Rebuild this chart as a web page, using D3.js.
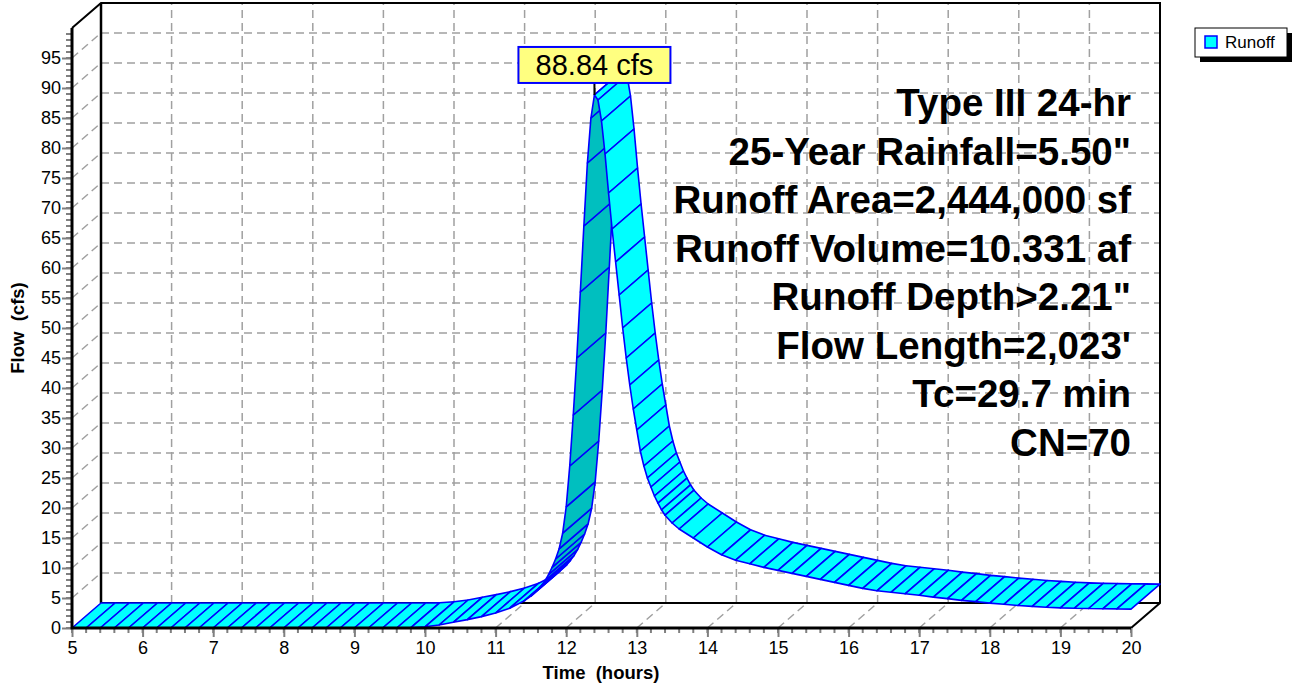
<!DOCTYPE html>
<html>
  <head>
    <style>
      body { margin: 0; background: #fff; }
      svg { display: block; font-family: "Liberation Sans", Arial, sans-serif; }
    </style>
  </head>
  <body>
    <script src="https://d3js.org/d3.v7.min.js"></script>
    <div id="chart"></div>
    <script>
      // Hydrograph samples: time (hours) and flow (cfs)
      var times = [
        5.0, 5.2, 5.4, 5.6, 5.8, 6.0, 6.2, 6.4, 6.6, 6.8,
        7.0, 7.2, 7.4, 7.6, 7.8, 8.0, 8.2, 8.4, 8.6, 8.8,
        9.0, 9.2, 9.4, 9.6, 9.8, 10.0, 10.2, 10.4, 10.6, 10.8,
        11.0, 11.2, 11.4, 11.5, 11.6, 11.65, 11.7, 11.75, 11.8, 11.85,
        11.9, 11.95, 12.0, 12.05, 12.1, 12.15, 12.2, 12.25, 12.3, 12.35,
        12.4, 12.45, 12.5, 12.55, 12.6, 12.65, 12.7, 12.75, 12.8, 12.85,
        12.9, 12.95, 13.0, 13.05, 13.1, 13.15, 13.2, 13.25, 13.3, 13.35,
        13.4, 13.5, 13.6, 13.8, 14.0, 14.2, 14.4, 14.6, 14.8, 15.0,
        15.2, 15.4, 15.6, 15.8, 16.0, 16.2, 16.4, 16.6, 16.8, 17.0,
        17.2, 17.4, 17.6, 17.8, 18.0, 18.2, 18.4, 18.6, 18.8, 19.0,
        19.2, 19.4, 19.6, 19.8, 20.0
      ];
      var flows = [
        0, 0, 0, 0, 0, 0, 0, 0, 0, 0,
        0, 0, 0, 0, 0, 0, 0, 0, 0, 0,
        0, 0, 0, 0, 0.05, 0.2, 0.5, 0.95, 1.4, 1.9,
        2.5, 3.3, 4.5, 5.3, 6.4, 7.1, 7.9, 8.9, 10.1, 11.5,
        13.2, 15.8, 20.2, 27.0, 35.5, 45.0, 56.0, 67.0, 77.5, 85.0,
        88.84, 88.0, 84.5, 79.0, 72.5, 66.5, 61.0, 55.5, 50.0, 45.0,
        40.5, 36.5, 33.0, 29.5, 27.0, 25.0, 23.5, 22.0, 20.8, 19.7,
        18.8, 17.5, 16.5, 15.0, 13.5, 12.2, 11.3, 10.7, 10.1, 9.6,
        9.1, 8.6, 8.1, 7.6, 7.1, 6.6, 6.2, 5.95, 5.7, 5.45,
        5.15, 4.9, 4.6, 4.4, 4.15, 3.95, 3.75, 3.6, 3.45, 3.35,
        3.3, 3.25, 3.2, 3.18, 3.15
      ];
      var xTicks = [5, 6, 7, 8, 9, 10, 11, 12, 13, 14, 15, 16, 17, 18, 19, 20];
      var yTicks = [0, 5, 10, 15, 20, 25, 30, 35, 40, 45, 50, 55, 60, 65, 70, 75, 80, 85, 90, 95];
      var peakText = "88.84 cfs";
      var seriesName = "Runoff";
      var notes = [
        "Type III 24-hr",
        "25-Year Rainfall=5.50\"",
        "Runoff Area=2,444,000 sf",
        "Runoff Volume=10.331 af",
        "Runoff Depth>2.21\"",
        "Flow Length=2,023'",
        "Tc=29.7 min",
        "CN=70"
      ];

      var width = 1294, height = 684;
      var dx = 29, dy = -25;   // depth offset of the back wall

      var x = d3.scaleLinear().domain([5, 20]).range([72, 1131]);
      var y = d3.scaleLinear().domain([0, 100]).range([628, 28]);

      var svg = d3.select("#chart").append("svg")
          .attr("width", width)
          .attr("height", height);

      var grid = svg.append("g")
          .attr("stroke", "#a0a0a0")
          .attr("stroke-width", 1.5)
          .attr("stroke-dasharray", "8,5")
          .attr("fill", "none");

      var innerY = yTicks.filter(function(d) { return d > 0; });
      var innerX = xTicks.filter(function(d) { return d > 5 && d < 20; });

      // back wall horizontal grid
      grid.selectAll(".hg").data(innerY).enter().append("line")
          .attr("x1", x(5) + dx).attr("x2", x(20) + dx)
          .attr("y1", function(d) { return y(d) + dy; })
          .attr("y2", function(d) { return y(d) + dy; });
      // back wall vertical grid
      grid.selectAll(".vg").data(innerX).enter().append("line")
          .attr("x1", function(d) { return x(d) + dx; })
          .attr("x2", function(d) { return x(d) + dx; })
          .attr("y1", y(0) + dy).attr("y2", y(100) + dy);
      // left wall diagonals
      grid.selectAll(".lg").data(innerY).enter().append("line")
          .attr("x1", x(5)).attr("x2", x(5) + dx)
          .attr("y1", function(d) { return y(d); })
          .attr("y2", function(d) { return y(d) + dy; });
      // floor diagonals
      grid.selectAll(".fg").data(innerX).enter().append("line")
          .attr("x1", function(d) { return x(d); })
          .attr("x2", function(d) { return x(d) + dx; })
          .attr("y1", y(0)).attr("y2", y(0) + dy);

      // frame of the box
      var frame = svg.append("g").attr("stroke", "#000").attr("fill", "none");
      frame.append("path")
          .attr("stroke-width", 2)
          .attr("d", "M" + x(5) + "," + y(100) +
                     "L" + (x(5) + dx) + "," + (y(100) + dy) +
                     "L" + (x(20) + dx) + "," + (y(100) + dy) +
                     "L" + (x(20) + dx) + "," + (y(0) + dy) +
                     "L" + x(20) + "," + y(0));
      frame.append("line")
          .attr("stroke-width", 2.5)
          .attr("x1", x(5) + dx).attr("x2", x(5) + dx)
          .attr("y1", y(100) + dy).attr("y2", y(0) + dy);
      frame.append("line")
          .attr("stroke-width", 2)
          .attr("x1", x(5) + dx).attr("x2", x(20) + dx)
          .attr("y1", y(0) + dy).attr("y2", y(0) + dy);

      // ribbon segments, drawn in time order
      var pts = times.map(function(t, i) { return [x(t), y(flows[i])]; });
      var segs = d3.range(pts.length - 1);
      svg.append("g").selectAll("path").data(segs).enter().append("path")
          .attr("d", function(i) {
            var a = pts[i], b = pts[i + 1];
            return "M" + a[0] + "," + a[1] +
                   "L" + b[0] + "," + b[1] +
                   "L" + (b[0] + dx) + "," + (b[1] + dy) +
                   "L" + (a[0] + dx) + "," + (a[1] + dy) + "Z";
          })
          .attr("fill", function(i) {
            var ex = pts[i + 1][0] - pts[i][0], ey = pts[i + 1][1] - pts[i][1];
            return (ex * dy - ey * dx) > 0 ? "#00bfbf" : "#00ffff";
          })
          .attr("stroke", "#0000ff")
          .attr("stroke-width", 1.6)
          .attr("stroke-linejoin", "round");

      // axes
      var xAxis = svg.append("g")
          .attr("transform", "translate(0," + y(0) + ")")
          .call(d3.axisBottom(x).tickValues(xTicks).tickSize(9).tickPadding(4).tickFormat(d3.format("d")));
      var yAxis = svg.append("g")
          .attr("transform", "translate(" + x(5) + ",0)")
          .call(d3.axisLeft(y).tickValues(yTicks).tickSize(10).tickPadding(1).tickFormat(d3.format("d")));
      [xAxis, yAxis].forEach(function(g) {
        g.select(".domain").remove();
        g.selectAll(".tick line").attr("stroke", "#808080").attr("stroke-width", 2);
        g.selectAll(".tick text").attr("fill", "#000")
            .style("font-size", "18px").style("font-family", "Liberation Sans, Arial, sans-serif");
      });

      // minor ticks
      svg.append("g").attr("stroke", "#808080").attr("stroke-width", 2)
        .selectAll("line").data(d3.range(5, 20.001, 0.2)).enter().append("line")
          .attr("x1", function(d) { return x(d); }).attr("x2", function(d) { return x(d); })
          .attr("y1", y(0)).attr("y2", y(0) + 5);
      svg.append("g").attr("stroke", "#808080").attr("stroke-width", 2)
        .selectAll("line").data(d3.range(0, 100, 1)).enter().append("line")
          .attr("x1", x(5) - 6).attr("x2", x(5))
          .attr("y1", function(d) { return y(d); }).attr("y2", function(d) { return y(d); });

      // front axis lines
      svg.append("path")
          .attr("fill", "none").attr("stroke", "#000").attr("stroke-width", 3)
          .attr("d", "M" + x(5) + "," + y(100) + "L" + x(5) + "," + y(0) + "L" + x(20) + "," + y(0));

      // axis titles
      svg.append("text")
          .attr("x", 601).attr("y", 679)
          .attr("text-anchor", "middle")
          .style("font-size", "18.5px").style("font-weight", "bold").style("white-space", "pre")
          .text("Time  (hours)");
      svg.append("text")
          .attr("transform", "translate(24,328) rotate(-90)")
          .attr("text-anchor", "middle")
          .style("font-size", "18.5px").style("font-weight", "bold").style("white-space", "pre")
          .text("Flow  (cfs)");

      // peak label
      var pi = flows.indexOf(d3.max(flows));
      var px = x(times[pi]), py = y(flows[pi]);
      svg.append("line")
          .attr("x1", px).attr("x2", px).attr("y1", py).attr("y2", py - 12)
          .attr("stroke", "#000").attr("stroke-width", 2);
      svg.append("rect")
          .attr("x", px - 76).attr("y", py - 48)
          .attr("width", 152).attr("height", 36)
          .attr("fill", "#ffff80").attr("stroke", "#0000ff").attr("stroke-width", 2);
      svg.append("text")
          .attr("x", px).attr("y", py - 19.5)
          .attr("text-anchor", "middle")
          .style("font-size", "29px")
          .text(peakText);

      // storm notes
      svg.append("g").selectAll("text").data(notes).enter().append("text")
          .attr("x", x(20))
          .attr("y", function(d, i) { return 116 + i * 48.5; })
          .attr("text-anchor", "end")
          .style("font-size", "38.5px").style("font-weight", "bold")
          .text(function(d) { return d; });

      // legend
      var lg = svg.append("g").attr("transform", "translate(1195,28)");
      lg.append("rect").attr("x", 5).attr("y", 5).attr("width", 92).attr("height", 29).attr("fill", "#000");
      lg.append("rect").attr("width", 92).attr("height", 29)
          .attr("fill", "#fff").attr("stroke", "#000").attr("stroke-width", 1);
      lg.append("rect").attr("x", 10).attr("y", 8).attr("width", 12).attr("height", 12)
          .attr("fill", "#00ffff").attr("stroke", "#0000ff").attr("stroke-width", 1.5);
      lg.append("text").attr("x", 30).attr("y", 20)
          .style("font-size", "17px").text(seriesName);
    </script>
  </body>
</html>
